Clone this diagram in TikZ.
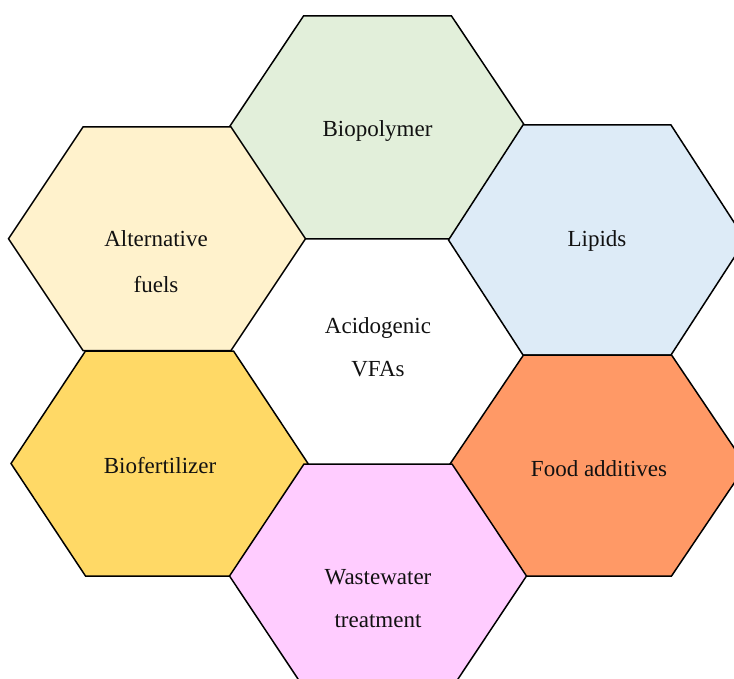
\documentclass[tikz,border=0pt]{standalone}
\usepackage{fontspec}
\setmainfont{Liberation Serif}
\definecolor{cgreen}{HTML}{E2EFDA}
\definecolor{cyellow}{HTML}{FFF2CC}
\definecolor{cblue}{HTML}{DDEBF7}
\definecolor{cgold}{HTML}{FFD966}
\definecolor{corange}{HTML}{FF9966}
\definecolor{cpink}{HTML}{FFCCFF}
\definecolor{ctext}{HTML}{111111}
\newcommand\hexa[4]{% fill, cx, ytop, ybot
  \filldraw[hexline,fill=#1] (#2-74,#3) -- (#2+74,#3) -- (#2+148.5,{(#3+#4)/2}) -- (#2+74,#4) -- (#2-74,#4) -- (#2-148.5,{(#3+#4)/2}) -- cycle;}
\begin{document}
\begin{tikzpicture}[x=1pt,y=-1pt,
  hexline/.style={draw=black,line width=1.5pt,line join=miter},
  lbl/.style={anchor=base,inner sep=0pt,text=ctext,font=\fontsize{23}{27}\selectfont}]
\useasboundingbox (0,0) rectangle (734,679);
\begin{scope}
\clip (0,0) rectangle (734,679);
\hexa{cgreen}{377.5}{16}{239}
\hexa{cyellow}{157}{127}{350.5}
\hexa{cblue}{597}{125}{355}
\hexa{cgold}{159.5}{351}{576}
\hexa{corange}{597.5}{355}{576}
\hexa{cpink}{378}{464}{688}
\end{scope}
\node[lbl] (biopoly) at (377.5,137) {Biopolymer};
\node[lbl] (alt1) at (156,247) {Alternative};
\node[lbl] (alt2) at (156,292) {fuels};
\node[lbl] (lipids) at (597,247) {Lipids};
\node[lbl] (acid1) at (378,333) {Acidogenic};
\node[lbl] (acid2) at (378,376) {VFAs};
\node[lbl] (biofert) at (160,473) {Biofertilizer};
\node[lbl] (food) at (599,476) {Food additives};
\node[lbl] (waste1) at (378,584) {Wastewater};
\node[lbl] (waste2) at (378,627) {treatment};
\end{tikzpicture}
\end{document}
